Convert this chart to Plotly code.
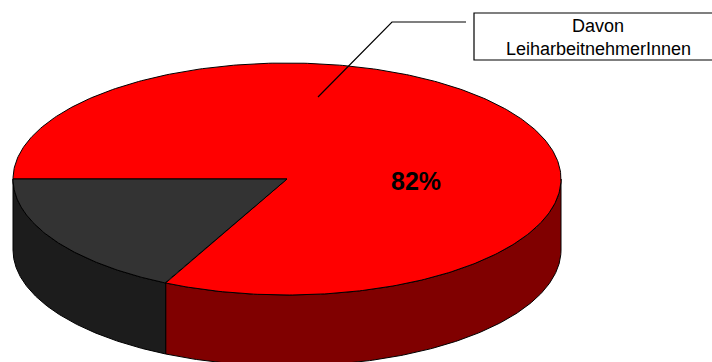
import numpy as np
import plotly.graph_objects as go

# ---- data ----
labels = ["Davon LeiharbeitnehmerInnen", "Sonstige"]
values = [82.3, 17.7]
show_pct = [True, False]
callout_lines = ["Davon", "LeiharbeitnehmerInnen"]

top_colors = ["#ff0000", "#333333"]
side_colors = ["#800000", "#1c1c1c"]

# ---- geometry (pixel space) ----
W, H = 712, 362
cx, cy, rx, ry, depth = 287, 179, 274, 116, 71
start_deg = 180.0

def pt(t, dy=0.0):
    r = np.radians(t)
    return cx + rx * np.cos(r), cy + ry * np.sin(r) + dy

total = float(sum(values))
bounds = []
a = start_deg
for v in values:
    b = a + 360.0 * v / total
    bounds.append((a, b))
    a = b

fig = go.Figure()

# side walls (front half: t in [0,180] mod 360)
for (a, b), col in zip(bounds, side_colors):
    for k in range(-1, 3):
        lo, hi = max(a, 360 * k), min(b, 360 * k + 180)
        if hi - lo <= 0.01:
            continue
        ts = np.linspace(lo, hi, 200)
        xs_t, ys_t = pt(ts)
        xs_b, ys_b = pt(ts[::-1], depth)
        xs = np.concatenate([xs_t, xs_b, xs_t[:1]])
        ys = np.concatenate([ys_t, ys_b, ys_t[:1]])
        fig.add_trace(go.Scatter(x=xs, y=ys, mode="lines", fill="toself",
                                 fillcolor=col, line=dict(color="black", width=1),
                                 hoverinfo="skip", showlegend=False))

# top faces
for (a, b), col, lab in zip(bounds, top_colors, labels):
    ts = np.linspace(a, b, 400)
    xs_a, ys_a = pt(ts)
    xs = np.concatenate([[cx], xs_a, [cx]])
    ys = np.concatenate([[cy], ys_a, [cy]])
    fig.add_trace(go.Scatter(x=xs, y=ys, mode="lines", fill="toself",
                             fillcolor=col, line=dict(color="black", width=1),
                             name=lab, hoverinfo="name", showlegend=False))

font = "Arial, Liberation Sans, sans-serif"

# percentage label
pct_text = "%d%%" % round(100 * values[0] / total)
fig.add_annotation(x=416, y=181, text="<b>%s</b>" % pct_text, showarrow=False,
                   font=dict(family=font, size=25, color="black"),
                   xanchor="center", yanchor="middle")

# leader line
fig.add_shape(type="path", path="M 318 97 L 392 22 L 466 22",
              line=dict(color="black", width=1.2), xref="x", yref="y")
# callout box
fig.add_shape(type="rect", x0=474, x1=724, y0=13, y1=60,
              line=dict(color="black", width=1.2), fillcolor="white",
              xref="x", yref="y")
fig.add_annotation(x=598, y=26, text=callout_lines[0], showarrow=False,
                   font=dict(family=font, size=18, color="black"),
                   xanchor="center", yanchor="middle")
fig.add_annotation(x=598, y=49, text=callout_lines[1], showarrow=False,
                   font=dict(family=font, size=18, color="black"),
                   xanchor="center", yanchor="middle")

fig.update_layout(
    width=W, height=H,
    margin=dict(l=0, r=0, t=0, b=0),
    paper_bgcolor="white", plot_bgcolor="white",
    xaxis=dict(range=[0, W], visible=False, fixedrange=True),
    yaxis=dict(range=[H, 0], visible=False, fixedrange=True),
    showlegend=False,
)

fig.write_html("out.html")
